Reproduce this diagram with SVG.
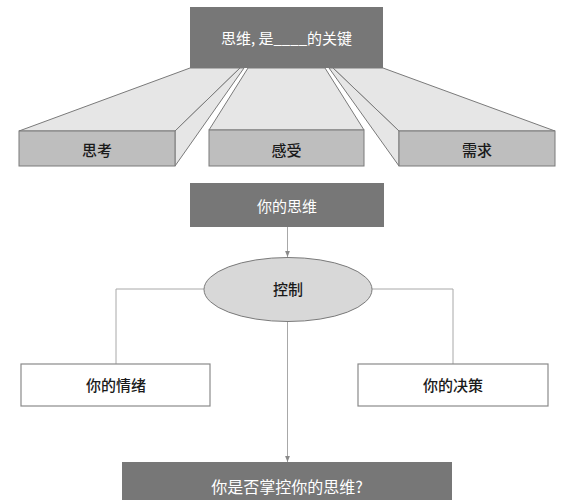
<svg xmlns="http://www.w3.org/2000/svg" width="583" height="500" viewBox="0 0 583 500">
<defs>
<style>
.dark{fill:#777777;stroke:none}
.top{fill:#e6e6e6;stroke:#7a7a7a;stroke-width:1;stroke-linejoin:round}
.front{fill:#bebebe;stroke:#7a7a7a;stroke-width:1}
.wbox{fill:#ffffff;stroke:#8a8a8a;stroke-width:1.2}
.ell{fill:#d8d8d8;stroke:#7a7a7a;stroke-width:1}
.conn{fill:none;stroke:#a8a8a8;stroke-width:1}
.t{font-family:"Noto Sans CJK SC","Noto Sans",sans-serif;text-anchor:middle;dominant-baseline:central}
.tw{fill:#ffffff;font-size:15px}
.tb{fill:#1a1a1a;font-size:15px;font-weight:500}
</style>
<marker id="arr" viewBox="0 0 10 10" refX="10" refY="5" markerWidth="6" markerHeight="6" orient="auto" markerUnits="userSpaceOnUse">
<path d="M0,1 L10,5 L0,9 Z" fill="#8a8a8a"/>
</marker>
</defs>
<rect width="583" height="500" fill="#ffffff"/>

<g id="block-thinking">
<polygon class="top" points="19,131 175,131 240,68 190,68"/>
<polygon class="top" points="175,131 240,68 244,68 175,166"/>
<rect class="front" x="19" y="131" width="156" height="35"/>
<text class="t tb" x="97" y="149">思考</text>
</g>
<g id="block-feeling">
<polygon class="top" points="209,130 364,130 325,68 248,68"/>
<rect class="front" x="209" y="130" width="155" height="36"/>
<text class="t tb" x="286.5" y="149">感受</text>
</g>
<g id="block-needs">
<polygon class="top" points="399,131 555,131 383,68 333,68"/>
<polygon class="top" points="399,131 333,68 329,68 399,166"/>
<rect class="front" x="399" y="131" width="156" height="35"/>
<text class="t tb" x="477" y="149">需求</text>
</g>
<g id="title">
<rect class="dark" x="190" y="7" width="193" height="61"/>
<text class="t tw" x="286.5" y="37">思维, 是____的关键</text>
</g>

<g id="connectors">
<line class="conn" x1="287.5" y1="227" x2="287.5" y2="257" marker-end="url(#arr)"/>
<polyline class="conn" points="204,289 116,289 116,364"/>
<polyline class="conn" points="372,289 453,289 453,364"/>
<line class="conn" x1="287.5" y1="322" x2="287.5" y2="462" marker-end="url(#arr)"/>
</g>

<g id="your-thinking">
<rect class="dark" x="190" y="183" width="194" height="44"/>
<text class="t tw" x="287" y="205">你的思维</text>
</g>
<g id="control">
<ellipse class="ell" cx="288" cy="289.5" rx="84" ry="32"/>
<text class="t tb" x="288" y="288">控制</text>
</g>
<g id="emotion">
<rect class="wbox" x="21" y="364" width="189" height="42"/>
<text class="t tb" x="116" y="384">你的情绪</text>
</g>
<g id="decision">
<rect class="wbox" x="358" y="364" width="190" height="42"/>
<text class="t tb" x="453" y="384">你的决策</text>
</g>
<g id="question">
<rect class="dark" x="122" y="462" width="330" height="40"/>
<text class="t tw" x="287" y="486" style="font-size:16px">你是否掌控你的思维?</text>
</g>
</svg>
